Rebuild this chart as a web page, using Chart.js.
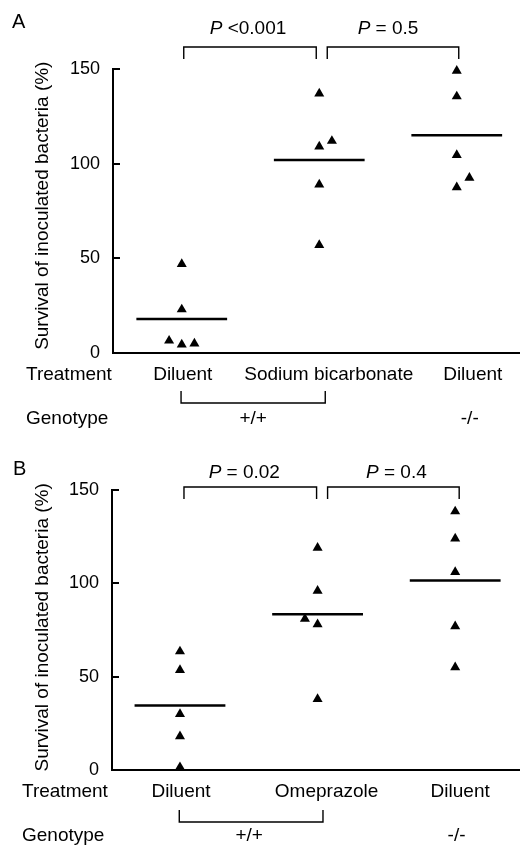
<!DOCTYPE html>
<html>
<head>
<meta charset="utf-8">
<script src="https://cdn.jsdelivr.net/npm/chart.js@4.4.1/dist/chart.umd.min.js"></script>
<style>
  html, body { margin: 0; padding: 0; background: #fff; }
  #wrap { position: relative; width: 520px; height: 845px; }
  .panel { position: absolute; left: 0; width: 520px; }
</style>
</head>
<body>
<div id="wrap">
  <div class="panel" style="top:0;height:430px"><canvas id="chartA" width="520" height="430"></canvas></div>
  <div class="panel" style="top:430px;height:415px"><canvas id="chartB" width="520" height="415"></canvas></div>
</div>
<script>
/* =====================================================
   Data
===================================================== */
const treatmentsA = ['Diluent', 'Sodium bicarbonate', 'Diluent'];
const treatmentsB = ['Diluent', 'Omeprazole', 'Diluent'];
const genotypes = ['+/+', '-/-'];
const yTicks = [0, 50, 100, 150];

// Panel A – survival (%) per mouse
const survA_wtDiluent = [47, 23, 6.5, 4.5, 5];
const survA_wtBicarb  = [137, 109, 112, 89, 57];
const survA_koDiluent = [149, 135.5, 104.5, 92.5, 87.5];
const meanA = [18, 102, 115];
const pValuesA = ['<0.001', '= 0.5'];

// Panel B – survival (%) per mouse
const survB_wtDiluent = [63.5, 53.5, 30, 18, 1.5];
const survB_wtOmep    = [119, 96, 81, 78, 38];
const survB_koDiluent = [138.5, 124, 106, 77, 55];
const meanB = [34.5, 83.5, 101.5];
const pValuesB = ['= 0.02', '= 0.4'];

// side-by-side placement of overlapping points (-1 left, 0 centre, 1 right)
const spreadA = [[0, 0, -1, 0, 1], [0, 0, 1, 0, 0], [0, 0, 0, 1, 0]];
const spreadB = [[0, 0, 0, 0, 0], [0, 0, -1, 0, 0], [0, 0, 0, 0, 0]];

const FONT = "'Liberation Sans', Arial, Helvetica, sans-serif";
const JIT = 0.092;
const HALF = 0.33;

/* =====================================================
   Annotation plugin (ticks, brackets, labels)
===================================================== */
function annotations(L) {
  return {
    id: 'annot',
    afterDraw(chart) {
      const ctx = chart.ctx;
      const xs = chart.scales.x, ys = chart.scales.y, area = chart.chartArea;
      const gx = i => xs.getPixelForValue(i);
      ctx.save();
      ctx.strokeStyle = '#000';
      ctx.fillStyle = '#000';

      // inward tick marks
      ctx.lineWidth = 2;
      ys.ticks.forEach(t => {
        const py = Math.round(ys.getPixelForValue(t.value));
        ctx.beginPath();
        ctx.moveTo(area.left, py);
        ctx.lineTo(area.left + 7, py);
        ctx.stroke();
      });

      // comparison brackets + P values
      ctx.lineWidth = 1.4;
      ctx.textBaseline = 'middle';
      L.brackets.forEach((b, k) => {
        const x1 = gx(b[0]) + b[2], x2 = gx(b[1]) + b[3];
        ctx.beginPath();
        ctx.moveTo(x1, L.brTop + 12);
        ctx.lineTo(x1, L.brTop);
        ctx.lineTo(x2, L.brTop);
        ctx.lineTo(x2, L.brTop + 12);
        ctx.stroke();

        const rest = ' ' + L.pValues[k];
        ctx.font = 'italic 19px ' + FONT;
        const wP = ctx.measureText('P').width;
        ctx.font = '19px ' + FONT;
        const wR = ctx.measureText(rest).width;
        const cx = (x1 + x2) / 2 + L.pShift[k];
        let sx = cx - (wP + wR) / 2;
        ctx.textAlign = 'left';
        ctx.font = 'italic 19px ' + FONT;
        ctx.fillText('P', sx, L.pY);
        ctx.font = '19px ' + FONT;
        ctx.fillText(rest, sx + wP, L.pY);
      });

      // panel letter
      ctx.font = '20px ' + FONT;
      ctx.textAlign = 'left';
      ctx.fillText(L.letter, L.letterX, L.letterY);

      // treatment row
      ctx.font = '19px ' + FONT;
      ctx.fillText('Treatment', L.rowX, L.treatY);
      ctx.textAlign = 'center';
      L.treatments.forEach((t, i) => ctx.fillText(t, gx(i) + L.treatShift[i], L.treatY));

      // genotype bracket
      ctx.lineWidth = 1.4;
      const g1 = gx(0) + L.genoBr[0], g2 = gx(1) + L.genoBr[1];
      ctx.beginPath();
      ctx.moveTo(g1, L.genoTop);
      ctx.lineTo(g1, L.genoTop + 12);
      ctx.lineTo(g2, L.genoTop + 12);
      ctx.lineTo(g2, L.genoTop);
      ctx.stroke();

      // genotype row
      ctx.textAlign = 'left';
      ctx.fillText('Genotype', L.rowX, L.genoY);
      ctx.textAlign = 'center';
      ctx.fillText(genotypes[0], (g1 + g2) / 2 + L.genoShift[0], L.genoY);
      ctx.fillText(genotypes[1], gx(2) + L.genoShift[1], L.genoY);
      ctx.restore();
    }
  };
}

/* =====================================================
   Chart builder
===================================================== */
function buildPanel(canvas, groups, spread, means, xRange, pad, L) {
  const datasets = [];
  groups.forEach((vals, g) => {
    datasets.push({
      type: 'scatter',
      data: vals.map((v, i) => ({ x: g + spread[g][i] * JIT, y: v })),
      pointStyle: 'triangle',
      pointRadius: 5.8,
      backgroundColor: '#000',
      borderWidth: 0,
      clip: false
    });
  });
  means.forEach((m, g) => {
    datasets.push({
      type: 'line',
      data: [{ x: g - HALF, y: m }, { x: g + HALF, y: m }],
      borderColor: '#000',
      borderWidth: 2.5,
      pointRadius: 0,
      clip: false
    });
  });

  return new Chart(canvas, {
    type: 'scatter',
    data: { datasets },
    options: {
      responsive: false,
      animation: false,
      devicePixelRatio: 1,
      layout: { autoPadding: false, padding: { top: pad.top, bottom: pad.bottom, left: 0, right: 0 } },
      plugins: { legend: { display: false }, tooltip: { enabled: false } },
      scales: {
        x: {
          type: 'linear',
          min: xRange[0], max: xRange[1],
          ticks: { display: false },
          grid: { display: false, drawTicks: false },
          border: { display: true, color: '#000', width: 2 },
          afterFit: s => { s.height = 0; }
        },
        y: {
          min: 0, max: 150,
          afterBuildTicks: s => { s.ticks = yTicks.map(v => ({ value: v })); },
          ticks: { color: '#000', padding: 13, font: { family: FONT, size: 18 } },
          grid: { display: false, drawTicks: false },
          border: { display: true, color: '#000', width: 2 },
          title: {
            display: true,
            text: L.yTitle,
            color: '#000',
            font: { family: FONT, size: 19 },
            padding: { top: 31.6, bottom: 0 }
          },
          afterFit: s => { s.width = pad.left; }
        }
      }
    },
    plugins: [annotations(L)]
  });
}

buildPanel(document.getElementById('chartA'),
  [survA_wtDiluent, survA_wtBicarb, survA_koDiluent], spreadA, meanA,
  [-0.5, 2.46], { top: 69, bottom: 77, left: 113 },
  {
    letter: 'A', letterX: 12, letterY: 22,
    yTitle: '  Survival of inoculated bacteria (%)',
    brackets: [[0, 1, 2, -3], [1, 2, 8, 2]], brTop: 47, pY: 29,
    pValues: pValuesA, pShift: [-2, -5],
    treatments: treatmentsA, treatShift: [1, 9.5, 16], treatY: 375, rowX: 26,
    genoBr: [-0.7, 6], genoTop: 391, genoY: 419, genoShift: [0, 13]
  });

buildPanel(document.getElementById('chartB'),
  [survB_wtDiluent, survB_wtOmep, survB_koDiluent], spreadB, meanB,
  [-0.494, 2.471], { top: 60, bottom: 75, left: 112 },
  {
    letter: 'B', letterX: 13, letterY: 39,
    yTitle: ' Survival of inoculated bacteria (%)',
    brackets: [[0, 1, 4, -1], [1, 2, 10, 4]], brTop: 57, pY: 43,
    pValues: pValuesB, pShift: [-6, 3],
    treatments: treatmentsB, treatShift: [1, 9, 5], treatY: 362, rowX: 22,
    genoBr: [-0.7, 5.4], genoTop: 380, genoY: 406, genoShift: [-2, 1.4]
  });
</script>
</body>
</html>
